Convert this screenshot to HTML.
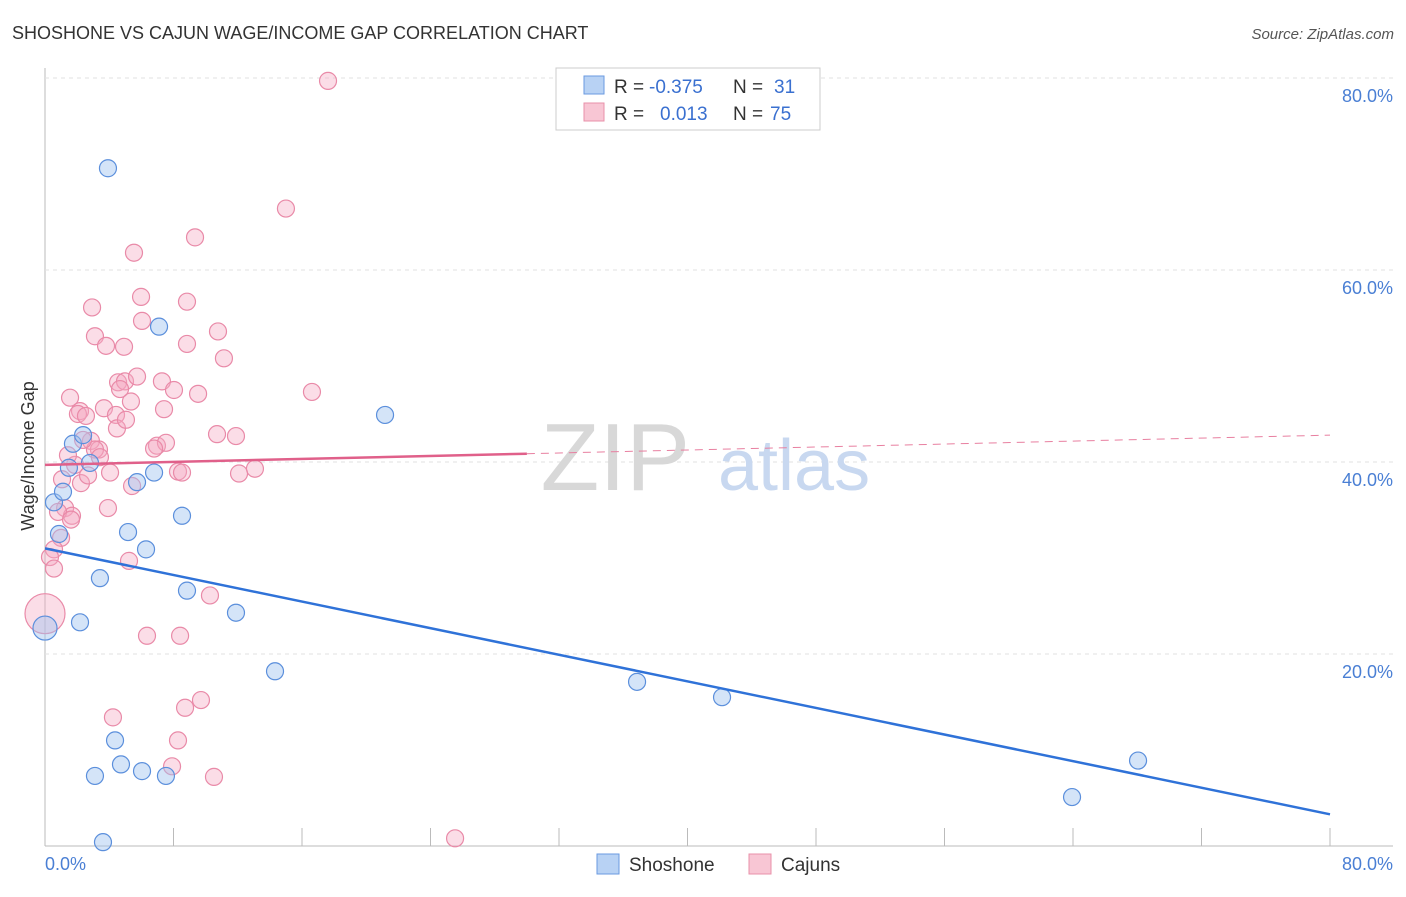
<!DOCTYPE html>
<html><head><meta charset="utf-8"><style>
body{margin:0;background:#fff;font-family:"Liberation Sans",sans-serif}
svg text{font-family:"Liberation Sans",sans-serif}
</style></head><body>
<svg id="c" width="1406" height="892">
<text x="12" y="39" font-size="18" fill="#333">SHOSHONE VS CAJUN WAGE/INCOME GAP CORRELATION CHART</text>
<text x="1394" y="39" font-size="15" fill="#555" font-style="italic" text-anchor="end">Source: ZipAtlas.com</text>
<g id="grid"></g>
<text x="690" y="490" font-size="96" fill="#d8d8d8" font-family="Liberation Serif" text-anchor="end">ZIP</text>
<text x="718" y="490" font-size="72" fill="#c8d8f0">atlas</text>
<g id="marks"></g>
<text x="34" y="456" font-size="18" fill="#333" text-anchor="middle" transform="rotate(-90 34 456)">Wage/Income Gap</text>
<text x="45" y="870" font-size="18" fill="#4a7fd4">0.0%</text>
<text x="1393" y="870" font-size="18" fill="#4a7fd4" text-anchor="end">80.0%</text>
<g>
<rect x="556" y="68" width="264" height="62" fill="#fff" stroke="#ccc"/>
<rect x="584" y="76" width="20" height="18" fill="#b8d2f4" stroke="#6a9ae0"/>
<rect x="584" y="103" width="20" height="18" fill="#f8c6d4" stroke="#e890aa"/>
<text x="614" y="93" font-size="19" fill="#333">R =</text>
<text x="649" y="93" font-size="19" fill="#3a70d0">-0.375</text>
<text x="733" y="93" font-size="19" fill="#333">N =</text>
<text x="774" y="93" font-size="19" fill="#3a70d0">31</text>
<text x="614" y="120" font-size="19" fill="#333">R =</text>
<text x="660" y="120" font-size="19" fill="#3a70d0">0.013</text>
<text x="733" y="120" font-size="19" fill="#333">N =</text>
<text x="770" y="120" font-size="19" fill="#3a70d0">75</text>
</g>
<g>
<rect x="597" y="854" width="22" height="20" fill="#b8d2f4" stroke="#6a9ae0"/>
<text x="629" y="871" font-size="19" fill="#333">Shoshone</text>
<rect x="749" y="854" width="22" height="20" fill="#f8c6d4" stroke="#e890aa"/>
<text x="781" y="871" font-size="19" fill="#333">Cajuns</text>
</g>
</svg>
<script>
const blueX=[3.92,7.10,21.17,0.56,1.12,1.74,2.37,1.49,2.80,6.79,5.73,8.53,0.87,5.17,6.29,3.42,8.84,0,2.18,11.89,14.32,36.86,42.15,4.36,4.73,6.04,3.11,7.53,3.61,63.94,68.05];
const blueY=[70.6,54.1,44.9,35.8,36.9,41.9,42.8,39.4,39.9,38.9,37.9,34.4,32.5,32.7,30.9,27.9,26.6,22.7,23.3,24.3,18.2,17.1,15.5,11.0,8.5,7.8,7.3,7.3,0.4,5.1,8.9];
const pinkX=[17.62,15.00,9.34,5.54,5.98,8.84,2.93,6.04,10.77,3.11,4.92,3.80,8.84,11.14,16.62,4.55,4.98,5.73,7.28,8.03,9.53,1.56,2.18,2.05,3.67,4.42,7.41,5.35,2.55,4.48,10.71,11.89,2.86,3.36,6.97,7.53,6.79,3.11,1.87,4.05,8.28,8.53,13.07,12.08,5.42,2.24,1.06,3.92,1.25,1.68,0.81,1.00,0.56,0.31,0.56,5.23,10.27,6.35,8.41,9.71,8.72,4.23,8.28,7.91,10.52,25.53,1.62,1.43,2.68,3.42,4.67,5.04,2.37,0];
const pinkY=[79.7,66.4,63.4,61.8,57.2,56.7,56.1,54.7,53.6,53.1,52.0,52.1,52.3,50.8,47.3,48.3,48.4,48.9,48.4,47.5,47.1,46.7,45.3,45.0,45.6,44.9,45.5,46.3,44.8,43.5,42.9,42.7,42.2,41.3,41.7,42.0,41.4,41.3,39.7,38.9,39.0,38.9,39.3,38.8,37.5,37.8,38.2,35.2,35.2,34.4,34.8,32.1,30.9,30.1,28.9,29.7,26.1,21.9,21.9,15.2,14.4,13.4,11.0,8.3,7.2,0.8,34.0,40.7,38.6,40.5,47.6,44.4,42.3,24.2];
const yTicks=[20,40,60,80];
const xTicks=[0,8,16,24,32,40,48,56,64,72,80];
const blueTrend=[31.0,3.3];
const pinkTrend=[39.7,42.8];
const pinkSolidEnd=30;
const NS='http://www.w3.org/2000/svg';
const sx=v=>45+v*(1285/80);
const sy=v=>846-v*9.6;
function mk(tag,at,parent){const e=document.createElementNS(NS,tag);for(const k in at)e.setAttribute(k,at[k]);parent.appendChild(e);return e;}
const grid=document.getElementById('grid');
const marks=document.getElementById('marks');
let ax=mk('line',{x1:45,y1:68,x2:45,y2:846,stroke:'#bbb'},grid);


let bx=mk('line',{x1:45,y1:846,x2:1393,y2:846,stroke:'#bbb'},grid);


yTicks.forEach(t=>{
 const l=mk('line',{x1:45,y1:sy(t),x2:1393,y2:sy(t),stroke:'#e2e2e2','stroke-dasharray':'4,4'},grid);
 
 
 const tx=mk('text',{x:1393,y:sy(t)+24,'font-size':18,fill:'#4a7fd4','text-anchor':'end'},grid);
 tx.textContent=t.toFixed(1)+'%';
 
 
});
xTicks.forEach(t=>{
 const l=mk('line',{x1:sx(t),y1:828,x2:sx(t),y2:846,stroke:'#bbb'},grid);
 
 
});
pinkX.forEach((x,i)=>{
 const big=i===pinkX.length-1;
 const c=mk('circle',{cx:sx(x),cy:sy(pinkY[i]),r:big?20:8.5,fill:'rgba(244,170,195,0.4)',stroke:'#e98aa8','stroke-width':1.2},marks);
 
 
});
blueX.forEach((x,i)=>{
 const big=i===17;
 const c=mk('circle',{cx:sx(x),cy:sy(blueY[i]),r:big?12:8.5,fill:'rgba(160,196,240,0.45)',stroke:'#5b8fdc','stroke-width':1.2},marks);
 
 
});
const pAt=x=>pinkTrend[0]+(pinkTrend[1]-pinkTrend[0])*x/80;
let pd=mk('line',{x1:sx(pinkSolidEnd),y1:sy(pAt(pinkSolidEnd)),x2:sx(80),y2:sy(pinkTrend[1]),stroke:'#e87fa0','stroke-width':1,'stroke-dasharray':'8,6'},marks);


let ps=mk('line',{x1:sx(0),y1:sy(pinkTrend[0]),x2:sx(pinkSolidEnd),y2:sy(pAt(pinkSolidEnd)),stroke:'#e0608a','stroke-width':2.5},marks);


let bt=mk('line',{x1:sx(0),y1:sy(blueTrend[0]),x2:sx(80),y2:sy(blueTrend[1]),stroke:'#2f72d8','stroke-width':2.5},marks);


</script>
</body></html>
